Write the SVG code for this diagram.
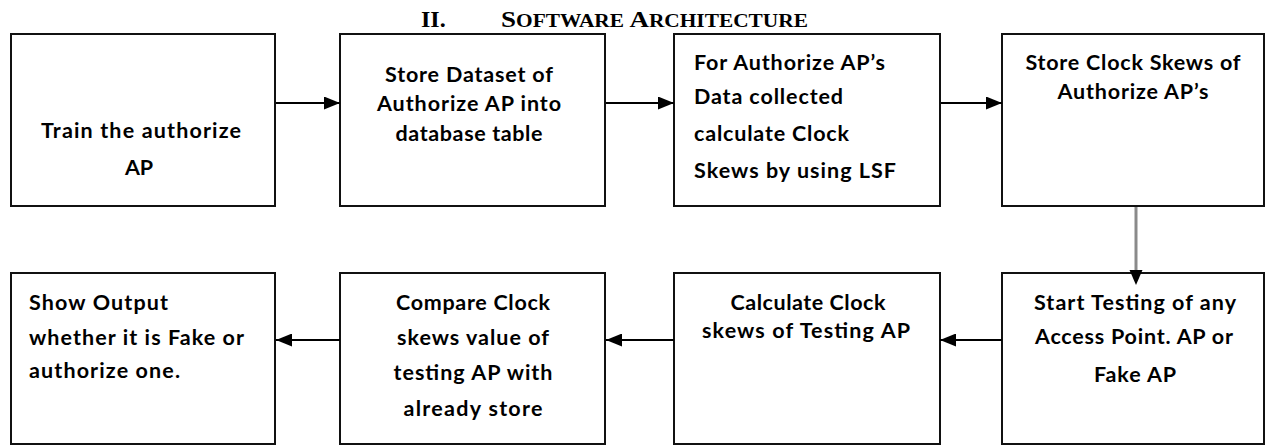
<svg xmlns="http://www.w3.org/2000/svg" width="1266" height="446" viewBox="0 0 1266 446">
  <style>
    .box { fill: #ffffff; stroke: #111111; stroke-width: 2; }
    .lbl { font-family: Lato, "Open Sans", "Liberation Sans", sans-serif; font-weight: 700; font-size: 21.5px; fill: #000000; }
    .mid { text-anchor: middle; }
    .title { font-family: "Liberation Serif", "Times New Roman", serif; font-weight: 700; fill: #000000; }
    .wire { stroke: #000000; stroke-width: 2; fill: none; }
    .wire-grey { stroke: #8a8a8a; stroke-width: 3; fill: none; }
  </style>
  <defs>
    <marker id="head" viewBox="0 0 16 13" refX="16" refY="6.5" markerWidth="16" markerHeight="13" markerUnits="userSpaceOnUse" orient="auto">
      <path d="M0,0 L16,6.5 L0,13 Z" fill="#000000"/>
    </marker>
  </defs>
  <rect width="1266" height="446" fill="#ffffff"/>

  <!-- section heading -->
  <g id="heading">
    <text class="title" x="421" y="27" font-size="24">II.</text>
    <text class="title" x="501" y="27" font-size="24" textLength="307" lengthAdjust="spacingAndGlyphs">S<tspan font-size="19">OFTWARE </tspan>A<tspan font-size="19">RCHITECTURE</tspan></text>
  </g>

  <!-- top row -->
  <g id="train">
    <rect class="box" x="11" y="34" width="264" height="172"/>
    <text class="lbl mid" x="141" y="138" textLength="200">Train the authorize</text>
    <text class="lbl mid" x="139" y="175">AP</text>
  </g>
  <g id="store-dataset">
    <rect class="box" x="340" y="34" width="265" height="172"/>
    <text class="lbl mid" x="469" y="82" textLength="168">Store Dataset of</text>
    <text class="lbl mid" x="469" y="111" textLength="184">Authorize AP into</text>
    <text class="lbl mid" x="469" y="141" textLength="147">database table</text>
  </g>
  <g id="calc-skews">
    <rect class="box" x="674" y="34" width="266" height="172"/>
    <text class="lbl" x="694" y="70" textLength="191">For Authorize AP’s</text>
    <text class="lbl" x="694" y="104" textLength="149">Data collected</text>
    <text class="lbl" x="694" y="141" textLength="155">calculate Clock</text>
    <text class="lbl" x="694" y="178" textLength="202">Skews by using LSF</text>
  </g>
  <g id="store-skews">
    <rect class="box" x="1002" y="34" width="262" height="172"/>
    <text class="lbl mid" x="1133" y="70" textLength="215">Store Clock Skews of</text>
    <text class="lbl mid" x="1133" y="99" textLength="151">Authorize AP’s</text>
  </g>

  <!-- bottom row -->
  <g id="show-output">
    <rect class="box" x="11" y="273" width="264" height="171"/>
    <text class="lbl" x="29" y="310" textLength="139">Show Output</text>
    <text class="lbl" x="29" y="345" textLength="215">whether it is Fake or</text>
    <text class="lbl" x="29" y="378" textLength="151">authorize one.</text>
  </g>
  <g id="compare">
    <rect class="box" x="340" y="273" width="265" height="171"/>
    <text class="lbl mid" x="473" y="310" textLength="154">Compare Clock</text>
    <text class="lbl mid" x="473" y="345" textLength="152">skews value of</text>
    <text class="lbl mid" x="473" y="380" textLength="159">testing AP with</text>
    <text class="lbl mid" x="473" y="416" textLength="139">already store</text>
  </g>
  <g id="calc-testing">
    <rect class="box" x="674" y="273" width="266" height="171"/>
    <text class="lbl mid" x="808" y="310" textLength="155">Calculate Clock</text>
    <text class="lbl mid" x="806" y="338" textLength="208">skews of Testing AP</text>
  </g>
  <g id="start-testing">
    <rect class="box" x="1002" y="273" width="262" height="171"/>
    <text class="lbl mid" x="1135" y="310" textLength="202">Start Testing of any</text>
    <text class="lbl mid" x="1134" y="344" textLength="198">Access Point. AP or</text>
    <text class="lbl mid" x="1135" y="382" textLength="82">Fake AP</text>
  </g>

  <!-- connectors, drawn over the boxes so heads can overlap the borders -->
  <g id="connectors">
    <line class="wire" x1="276" y1="103" x2="340" y2="103" marker-end="url(#head)"/>
    <line class="wire" x1="606" y1="103" x2="674" y2="103" marker-end="url(#head)"/>
    <line class="wire" x1="941" y1="103" x2="1002" y2="103" marker-end="url(#head)"/>
    <line class="wire-grey" x1="1136" y1="207" x2="1136" y2="271"/>
    <path d="M1129.5,270 L1142.5,270 L1136,285 Z" fill="#000000"/>
    <line class="wire" x1="1002" y1="340" x2="940" y2="340" marker-end="url(#head)"/>
    <line class="wire" x1="674" y1="340" x2="606" y2="340" marker-end="url(#head)"/>
    <line class="wire" x1="340" y1="340" x2="276" y2="340" marker-end="url(#head)"/>
  </g>
</svg>
